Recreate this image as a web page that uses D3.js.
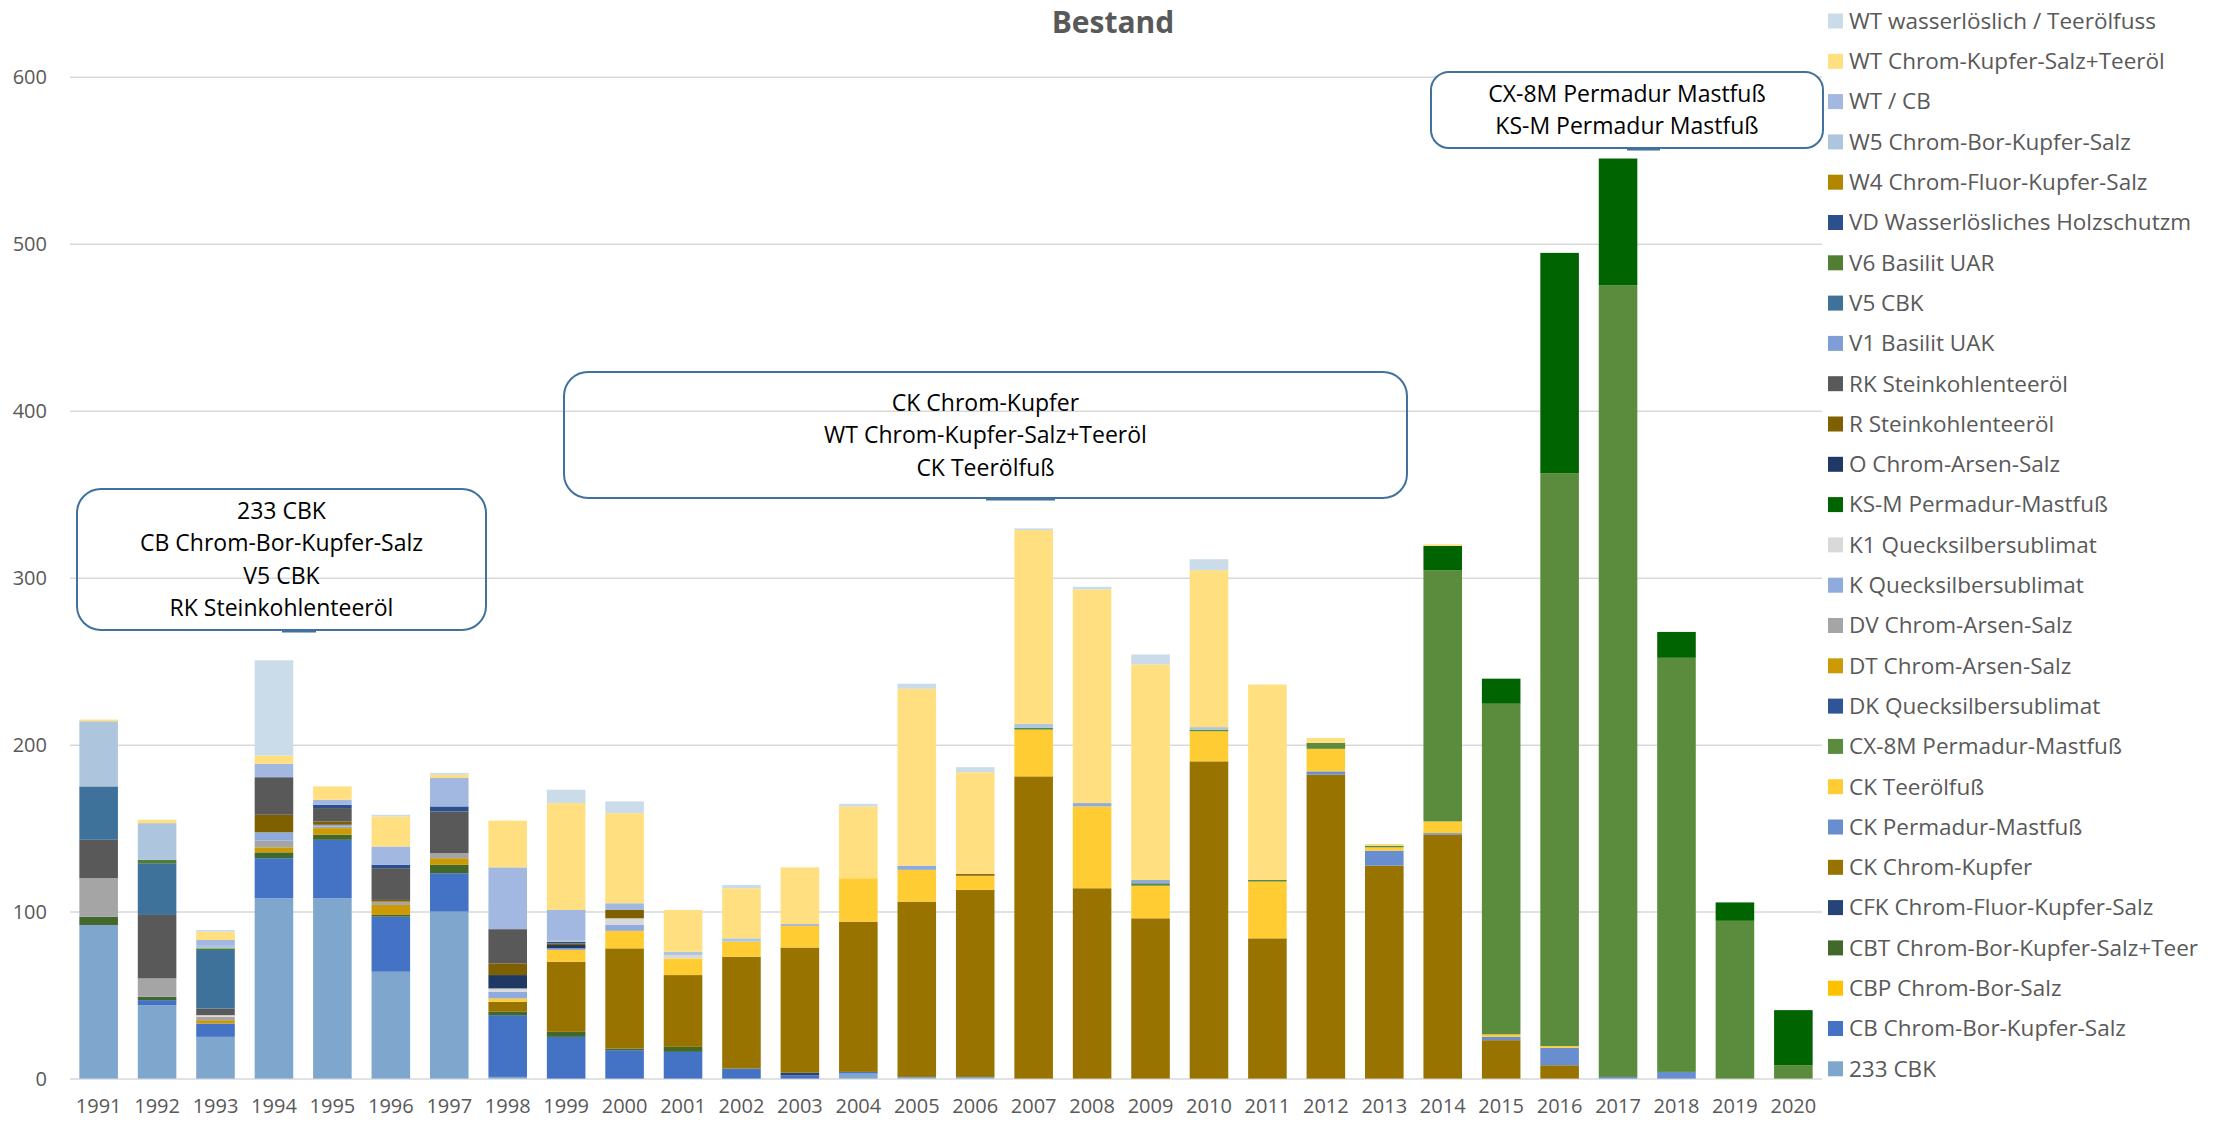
<!DOCTYPE html>
<html>
<head>
<meta charset="utf-8">
<script src="https://cdn.jsdelivr.net/npm/d3@7"></script>
<style>
body { margin: 0; background: #fff; }
text { font-family: "Open Sans", sans-serif; }
</style>
</head>
<body>
<div id="chart"></div>
<script>
// categories
var years = ["1991","1992","1993","1994","1995","1996","1997","1998","1999","2000",
             "2001","2002","2003","2004","2005","2006","2007","2008","2009","2010",
             "2011","2012","2013","2014","2015","2016","2017","2018","2019","2020"];

// series values, one per year (bottom of the stack first)
var cbk233 = [92,44,25,108,108,64,100,1,0,0, 0,0,0,3,1,1,0,0,0,0, 0,0,0,0,0,0,0,0,0,0];
var cbSalz = [0,3,8,24,35,33,23,37,25,17, 16,6,2,1,0,0,0,0,0,0, 0,0,0,0,0,0,0,0,0,0];
var cbpSalz = [0,0,0,0,0,0,0,0,0,0, 0,0,0,0,0,0,0,0,0,0, 0,0,0,0,0,0,0,0,0,0];
var cbtTeer = [5,2,0,3.5,3,1,5,2,3,1, 3,0,0,0,0,0,0,0,0,0, 0,0,0,0,0,0,0,0,0,0];
var cfkSalz = [0,0,0,0,0,0,0,0,0,0, 0,0,1.5,0,0,0,0,0,0,0, 0,0,0,0,0,0,0,0,0,0];
var ckKupfer = [0,0,0,0,0,0,0,6,42,60, 43,67,75,90,105,112,181,114,96,190, 84,182,127.5,146,23,8,0,0,0,0];
var ckPermadur = [0,0,0,0,0,0,0,0,0,0, 0,0,0,0,0,0,0,0,0,0, 0,2,9,1,2,10.5,1,4,0,0];
var ckTeerol = [0,0,0,0,0,0,0,2,7,10.5, 10,9,13,26,19,8.5,28,49,19.5,18, 34,13.5,2,7,1.5,1,0,0,0,0];
var cx8m = [0,0,0,0,0,0,0,0,0,0, 0,0,0,0,0,0,1,0,1.5,1, 1,3.5,1,150.5,198,343,474,248,94.5,8];
var dkQueck = [0,0,0,0,0,0,0,0,0,0, 0,0,0,0,0,0,0,0,0,0, 0,0,0,0,0,0,0,0,0,0];
var dtArsen = [0,0,2,3,4,6,4,0,0,0, 0,0,0,0,0,0,0,0,0,0, 0,0,0,0,0,0,0,0,0,0];
var dvArsen = [23,11,2,4,1,2,3,0,0,0, 0,0,0,0,0,0,0,0,0,0, 0,0,0,0,0,0,0,0,0,0];
var kQueck = [0,0,0,5,1,0,0,4,1,3.5, 0,0,1,0,2.5,0,0,2,2,0, 0,0,0,0,0,0,0,0,0,0];
var k1Queck = [0,0,1,0,0,0,0,2,0,4, 2,0,0,0,0,0,0,0,0,0, 0,0,0,0,0,0,0,0,0,0];
var ksm = [0,0,0,0,0,0,0,0,0,0, 0,0,0,0,0,0,0,0,0,0, 0,0,0,14.5,15,132,76,15.5,11,33];
var oArsen = [0,0,0,0,0,0,0,8,2,0, 0,0,0,0,0,0,0,0,0,0, 0,0,0,0,0,0,0,0,0,0];
var rTeer = [0,0,0,10.5,2,1,0,7,1,5, 0,0,0,0,0,1,0,0,0,0, 0,0,0,0,0,0,0,0,0,0];
var rkTeer = [23,38,4,22.5,8,19,25,20.5,0,0, 0,0,0,0,0,0,0,0,0,0, 0,0,0,0,0,0,0,0,0,0];
var v1Uak = [0,0,0,0,0,0,0,0,0,0, 0,0,0,0,0,0,0,0,0,0, 0,0,0,0,0,0,0,0,0,0];
var v5Cbk = [32,31,35,0,0,0,0,0,0,0, 0,0,0,0,0,0,0,0,0,0, 0,0,0,0,0,0,0,0,0,0];
var v6Uar = [0,2,1,0,0,0,0,0,0,0, 0,0,0,0,0,0,0,0,0,0, 0,0,0,0,0,0,0,0,0,0];
var vdWasser = [0,0,0,0,2,2,3,0,1,0, 0,0,0,0,0,0,0,0,0,0, 0,0,0,0,0,0,0,0,0,0];
var w4Salz = [0,0,0,0,0,0,0,0,0,0, 0,0,0,0,0,0,0,0,0,0, 0,0,0,0,0,0,0,0,0,0];
var w5Salz = [39,22,2,0,0,0,0,0,1,0, 2,2,0,0,0,0,2.5,0,0,1.5, 0,0,0,0,0,0,0,0,0,0];
var wtCb = [0,0,3,8,3,11,17,37,18,4, 0,0,0,0,0,0,0,0,0,0, 0,0,0,0,0,0,0,0,0,0];
var wtTeerol = [1,2,5,5,8,18,2,28,64,54, 25,30,34,43,106,61,116,128,129,94, 117,3,1,1,0,0,0,0,0,0];
var wtWasser = [0,0,1,57,0,1,1,0,8,7, 0,2,0,1.5,3,3,1,1.5,6,6.5, 0,0,0,0,0,0,0,0,0,0];

// series names in stacking order
var seriesNames = ["233 CBK","CB Chrom-Bor-Kupfer-Salz","CBP Chrom-Bor-Salz","CBT Chrom-Bor-Kupfer-Salz+Teer",
    "CFK Chrom-Fluor-Kupfer-Salz","CK Chrom-Kupfer","CK Permadur-Mastfuß","CK Teerölfuß","CX-8M Permadur-Mastfuß",
    "DK Quecksilbersublimat","DT Chrom-Arsen-Salz","DV Chrom-Arsen-Salz","K Quecksilbersublimat","K1 Quecksilbersublimat",
    "KS-M Permadur-Mastfuß","O Chrom-Arsen-Salz","R Steinkohlenteeröl","RK Steinkohlenteeröl","V1 Basilit UAK",
    "V5 CBK","V6 Basilit UAR","VD Wasserlösliches Holzschutzm","W4 Chrom-Fluor-Kupfer-Salz","W5 Chrom-Bor-Kupfer-Salz",
    "WT / CB","WT Chrom-Kupfer-Salz+Teeröl","WT wasserlöslich / Teerölfuss"];

var seriesValues = [cbk233,cbSalz,cbpSalz,cbtTeer,cfkSalz,ckKupfer,ckPermadur,ckTeerol,cx8m,dkQueck,dtArsen,dvArsen,
    kQueck,k1Queck,ksm,oArsen,rTeer,rkTeer,v1Uak,v5Cbk,v6Uar,vdWasser,w4Salz,w5Salz,wtCb,wtTeerol,wtWasser];

var seriesColors = ["#7FA7CD","#4472C4","#FFC000","#43682B","#264478","#997300","#698ED0","#FFCD33","#5B8B3C",
    "#2F5597","#CC9A06","#A5A5A5","#8FAADC","#D9D9D9","#006400","#203864","#7F6000","#595959","#7F9ED8",
    "#3F729B","#507E32","#2C4F8D","#B38600","#ADC6DE","#A2B8E1","#FFDF80","#CADCEA"];

var yTicks = [0,100,200,300,400,500,600];

// annotation boxes
var notes = [
    {x: 77, y: 489, w: 409, h: 141, r: 24, fill: "none", lines: ["233 CBK","CB Chrom-Bor-Kupfer-Salz","V5 CBK","RK Steinkohlenteeröl"], seg: [282, 316]},
    {x: 564, y: 372, w: 843, h: 126, r: 24, fill: "none", lines: ["CK Chrom-Kupfer","WT Chrom-Kupfer-Salz+Teeröl","CK Teerölfuß"], seg: [986, 1055]},
    {x: 1431, y: 72, w: 392, h: 76, r: 18, fill: "#fff", lines: ["CX-8M Permadur Mastfuß","KS-M Permadur Mastfuß"], seg: [1627, 1660]}
];

// svg properties
var svgWidth = 2228;
var svgHeight = 1121;
var plot = {left: 70, right: 1822, top: 76.7, bottom: 1078.6};

var svg = d3.select("#chart")
    .append("svg")
    .attr("width", svgWidth)
    .attr("height", svgHeight);

// build table for the stack
var table = years.map(function(yr, i) {
    var row = {year: yr};
    seriesNames.forEach(function(name, j) { row[name] = seriesValues[j][i]; });
    return row;
});

var stacked = d3.stack().keys(seriesNames)(table);

var x = d3.scaleBand()
    .domain(years)
    .range([plot.left, plot.right])
    .paddingInner(0.34)
    .paddingOuter(0.16);

var y = d3.scaleLinear()
    .domain([0, 600])
    .range([plot.bottom, plot.top]);

var color = d3.scaleOrdinal().domain(seriesNames).range(seriesColors);

// gridlines + y labels
var yAxis = svg.append("g")
    .attr("transform", `translate(${plot.left},0)`)
    .call(d3.axisLeft(y).tickValues(yTicks).tickSize(-(plot.right - plot.left)).tickPadding(23));
yAxis.select(".domain").remove();
yAxis.selectAll("line").attr("stroke", "#D9D9D9").attr("stroke-width", 1.5);
yAxis.selectAll("text")
    .style("font-family", "'Open Sans', sans-serif")
    .style("font-size", "20px")
    .attr("fill", "#595959");

// bars
svg.append("g")
    .selectAll("g")
    .data(stacked)
    .enter()
    .append("g")
    .attr("fill", d => color(d.key))
    .selectAll("rect")
    .data(d => d)
    .enter()
    .append("rect")
    .attr("x", d => x(d.data.year))
    .attr("y", d => y(d[1]))
    .attr("width", x.bandwidth())
    .attr("height", d => y(d[0]) - y(d[1]));

// x labels
var xAxis = svg.append("g")
    .attr("transform", `translate(0,${plot.bottom})`)
    .call(d3.axisBottom(x).tickSize(0).tickPadding(20));
xAxis.select(".domain").remove();
xAxis.selectAll("text")
    .style("font-family", "'Open Sans', sans-serif")
    .style("font-size", "20px")
    .attr("fill", "#595959");

// title
svg.append("text")
    .attr("x", 1113)
    .attr("y", 33)
    .attr("text-anchor", "middle")
    .attr("font-size", "30px")
    .attr("font-weight", "bold")
    .attr("fill", "#595959")
    .text("Bestand");

// legend (reverse of stack order)
var legend = svg.append("g")
    .selectAll("g")
    .data(seriesNames.slice().reverse())
    .enter()
    .append("g")
    .attr("transform", (d, i) => `translate(1828,${21 + i * 40.3})`);

legend.append("rect")
    .attr("x", 0)
    .attr("y", -7.5)
    .attr("width", 15)
    .attr("height", 15)
    .attr("fill", d => color(d));

legend.append("text")
    .attr("x", 21)
    .attr("y", 0)
    .attr("dy", "0.35em")
    .attr("font-size", "22.5px")
    .attr("fill", "#595959")
    .text(d => d);

// annotation boxes
var noteGroup = svg.append("g")
    .selectAll("g")
    .data(notes)
    .enter()
    .append("g");

noteGroup.append("rect")
    .attr("x", d => d.x)
    .attr("y", d => d.y)
    .attr("width", d => d.w)
    .attr("height", d => d.h)
    .attr("rx", d => d.r)
    .attr("fill", d => d.fill)
    .attr("stroke", "#41719C")
    .attr("stroke-width", 2);

noteGroup.append("line")
    .attr("x1", d => d.seg[0])
    .attr("x2", d => d.seg[1])
    .attr("y1", d => d.y + d.h + 1)
    .attr("y2", d => d.y + d.h + 1)
    .attr("stroke", "#41719C")
    .attr("stroke-width", 3);

noteGroup.each(function(d) {
    var g = d3.select(this);
    var lineH = 32.5;
    var startY = d.y + d.h / 2 - (d.lines.length - 1) * lineH / 2;
    g.selectAll("text.note")
        .data(d.lines)
        .enter()
        .append("text")
        .attr("class", "note")
        .attr("x", d.x + d.w / 2)
        .attr("y", (l, i) => startY + i * lineH)
        .attr("dy", "0.35em")
        .attr("text-anchor", "middle")
        .attr("font-size", "23px")
        .attr("fill", "#000")
        .text(l => l);
});
</script>
</body>
</html>
